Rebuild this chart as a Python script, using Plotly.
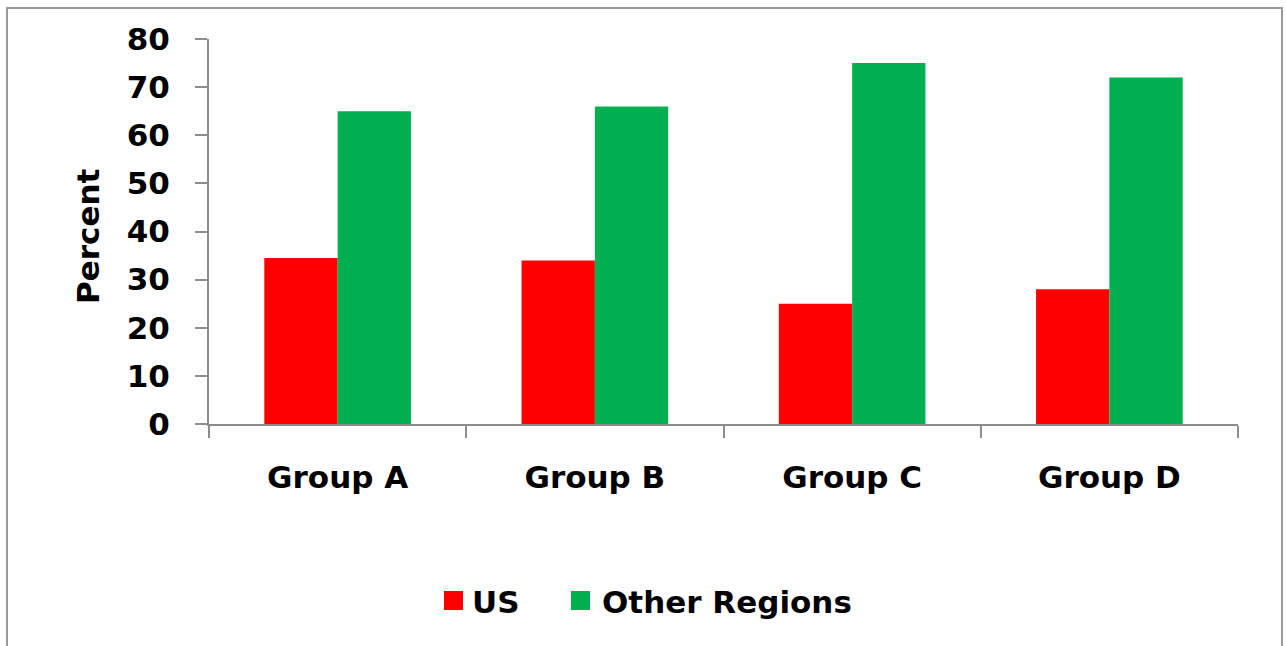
import plotly.graph_objects as go

# Data
groups = ["Group A", "Group B", "Group C", "Group D"]
us_values = [34.5, 34, 25, 28]
other_values = [65, 66, 75, 72]
series_names = ["US", "Other Regions"]
y_ticks = [0, 10, 20, 30, 40, 50, 60, 70, 80]

RED = "#FF0000"
GREEN = "#00B050"
AXIS = "#8C8C8C"
FONT = "DejaVu Sans, Liberation Sans, Arial, sans-serif"
FS = 31

W, H = 1286, 646
ML, MR, MT, MB = 209, 48, 39, 222
PW = W - ML - MR
PH = H - MT - MB


def px(x):
    return (x - ML) / PW


def py(y):
    return (H - MB - y) / PH


fig = go.Figure()
fig.add_trace(go.Bar(x=groups, y=us_values, name=series_names[0],
                     marker=dict(color=RED, line=dict(width=0)), showlegend=False))
fig.add_trace(go.Bar(x=groups, y=other_values, name=series_names[1],
                     marker=dict(color=GREEN, line=dict(width=0)), showlegend=False))

# Outer chart frame
fig.add_shape(type="rect", xref="paper", yref="paper",
              x0=px(7), x1=px(1282), y0=py(652), y1=py(8),
              line=dict(color="#9A9A9A", width=2), fillcolor="rgba(0,0,0,0)",
              layer="below")

# Legend drawn as swatches + labels
legend_items = [(series_names[0], RED, 444, 470), (series_names[1], GREEN, 571, 600)]
for name, color, sx, tx in legend_items:
    fig.add_shape(type="rect", xref="paper", yref="paper",
                  x0=px(sx), x1=px(sx + 19), y0=py(610), y1=py(591),
                  line=dict(width=0), fillcolor=color)
    fig.add_annotation(text=name, xref="paper", yref="paper",
                       x=px(tx), y=py(602), xanchor="left", yanchor="middle",
                       showarrow=False,
                       font=dict(family=FONT, size=FS, color="black", weight="bold"))

# Y axis title
fig.add_annotation(text="Percent", xref="paper", yref="paper",
                   x=px(88), y=py(236), textangle=-90,
                   xanchor="center", yanchor="middle", showarrow=False,
                   font=dict(family=FONT, size=FS, color="black", weight="bold"))

fig.update_layout(
    width=W, height=H,
    margin=dict(l=ML, r=MR, t=MT, b=MB),
    paper_bgcolor="white", plot_bgcolor="white",
    barmode="group", bargap=0.43, bargroupgap=0,
    font=dict(family=FONT, color="black"),
)

fig.update_xaxes(
    showline=True, linecolor=AXIS, linewidth=2,
    ticks="outside", tickson="boundaries", ticklen=12, tickcolor=AXIS, tickwidth=2,
    tickfont=dict(family=FONT, size=FS, color="black", weight="bold"),
    ticklabelstandoff=25,
    showgrid=False, zeroline=False,
)
fig.update_yaxes(
    range=[0, 80], tickvals=y_ticks,
    showline=True, linecolor=AXIS, linewidth=2,
    ticks="outside", ticklen=12, tickcolor=AXIS, tickwidth=2,
    tickfont=dict(family=FONT, size=FS, color="black", weight="bold"),
    ticklabelstandoff=19,
    showgrid=False, zeroline=False,
)

fig.write_html("out.html")
